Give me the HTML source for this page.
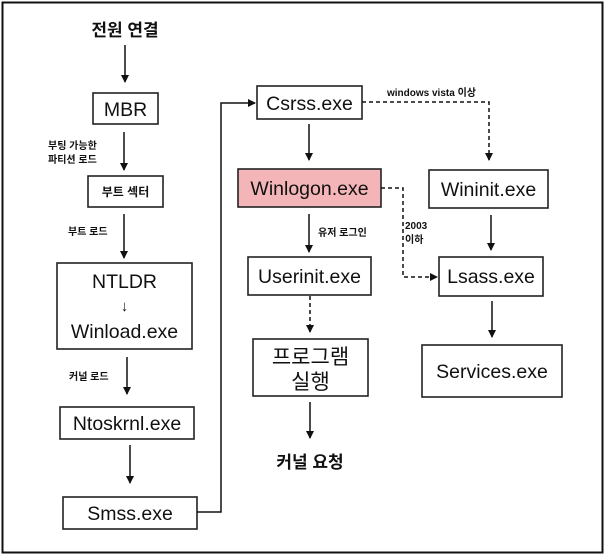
<!DOCTYPE html>
<html><head><meta charset="utf-8"><style>
html,body{margin:0;padding:0;background:#fff;}
svg{display:block;}
text{font-family:"Liberation Sans","Noto Sans CJK KR",sans-serif;fill:#111;}
.b{font-size:19.5px;}
.s{font-size:10px;font-weight:bold;}
</style></head><body>
<svg width="606" height="556" viewBox="0 0 606 556" xmlns="http://www.w3.org/2000/svg">
<defs>
<marker id="a" markerWidth="8" markerHeight="8" refX="7" refY="4" orient="auto" markerUnits="userSpaceOnUse">
<path d="M0,0 L8,4 L0,8 z" fill="#111"/></marker>
</defs>
<rect x="2.5" y="2.5" width="600" height="550" fill="#fff" stroke="#111" stroke-width="2"/>
<g stroke="#222" stroke-width="1.6" fill="#fff">
<rect x="93" y="93" width="65" height="31"/>
<rect x="88" y="176" width="75" height="31"/>
<rect x="57" y="263" width="135" height="86"/>
<rect x="60" y="407" width="134" height="32"/>
<rect x="63" y="497" width="134" height="32"/>
<rect x="257" y="86" width="105" height="33"/>
<rect x="238" y="169" width="143" height="38" fill="#f3b5b8"/>
<rect x="429" y="170" width="119" height="38"/>
<rect x="248" y="257" width="123" height="38"/>
<rect x="439" y="257" width="104" height="39"/>
<rect x="253" y="339" width="115" height="57"/>
<rect x="422" y="345" width="140" height="52"/>
</g>
<g stroke="#111" stroke-width="1.5" fill="none">
<line x1="125" y1="45" x2="125" y2="82" marker-end="url(#a)"/>
<line x1="124" y1="132" x2="124" y2="170" marker-end="url(#a)"/>
<line x1="124" y1="214" x2="124" y2="258" marker-end="url(#a)"/>
<line x1="127" y1="357" x2="127" y2="394" marker-end="url(#a)"/>
<line x1="130" y1="445" x2="130" y2="483" marker-end="url(#a)"/>
<polyline points="197,512 221,512 221,103 255,103" marker-end="url(#a)"/>
<line x1="309" y1="124" x2="309" y2="160" marker-end="url(#a)"/>
<line x1="309" y1="214" x2="309" y2="252" marker-end="url(#a)"/>
<line x1="491" y1="215" x2="491" y2="250" marker-end="url(#a)"/>
<line x1="492" y1="301" x2="492" y2="337" marker-end="url(#a)"/>
<line x1="310" y1="402" x2="310" y2="438" marker-end="url(#a)"/>
<g stroke-dasharray="4,3">
<polyline points="362,102 489,102 489,160" marker-end="url(#a)"/>
<polyline points="381,188 403,188 403,277 437,277" marker-end="url(#a)"/>
<line x1="310" y1="296" x2="310" y2="332" marker-end="url(#a)"/>
</g>
</g>
<text x="125" y="36" text-anchor="middle" style="font-size:17px;font-weight:bold">전원 연결</text>
<text class="b" x="125.5" y="116" text-anchor="middle">MBR</text>
<text class="s" x="48" y="149">부팅 가능한</text>
<text class="s" x="48" y="163">파티션 로드</text>
<text class="s" x="125.5" y="196" text-anchor="middle" style="font-size:12px">부트 섹터</text>
<text class="s" x="68" y="235">부트 로드</text>
<text class="b" x="124.5" y="288" text-anchor="middle">NTLDR</text>
<text x="124.5" y="311" text-anchor="middle" style="font-size:15px">↓</text>
<text class="b" x="124.5" y="338" text-anchor="middle">Winload.exe</text>
<text class="s" x="69" y="380">커널 로드</text>
<text class="b" x="127" y="430" text-anchor="middle">Ntoskrnl.exe</text>
<text class="b" x="130" y="520" text-anchor="middle">Smss.exe</text>
<text class="b" x="309.5" y="110" text-anchor="middle">Csrss.exe</text>
<text class="s" x="387" y="96">windows vista 이상</text>
<text class="b" x="309.5" y="195" text-anchor="middle">Winlogon.exe</text>
<text class="b" x="488.5" y="196" text-anchor="middle">Wininit.exe</text>
<text class="s" x="318" y="236">유저 로그인</text>
<text class="s" x="405" y="229">2003</text>
<text class="s" x="405" y="243">이하</text>
<text class="b" x="309.5" y="283" text-anchor="middle">Userinit.exe</text>
<text class="b" x="491" y="283" text-anchor="middle">Lsass.exe</text>
<text x="310.5" y="364" text-anchor="middle" style="font-size:21px">프로그램</text>
<text x="310.5" y="389" text-anchor="middle" style="font-size:21px">실행</text>
<text class="b" x="492" y="378" text-anchor="middle">Services.exe</text>
<text x="310" y="468" text-anchor="middle" style="font-size:17px;font-weight:bold">커널 요청</text>
</svg>
</body></html>
